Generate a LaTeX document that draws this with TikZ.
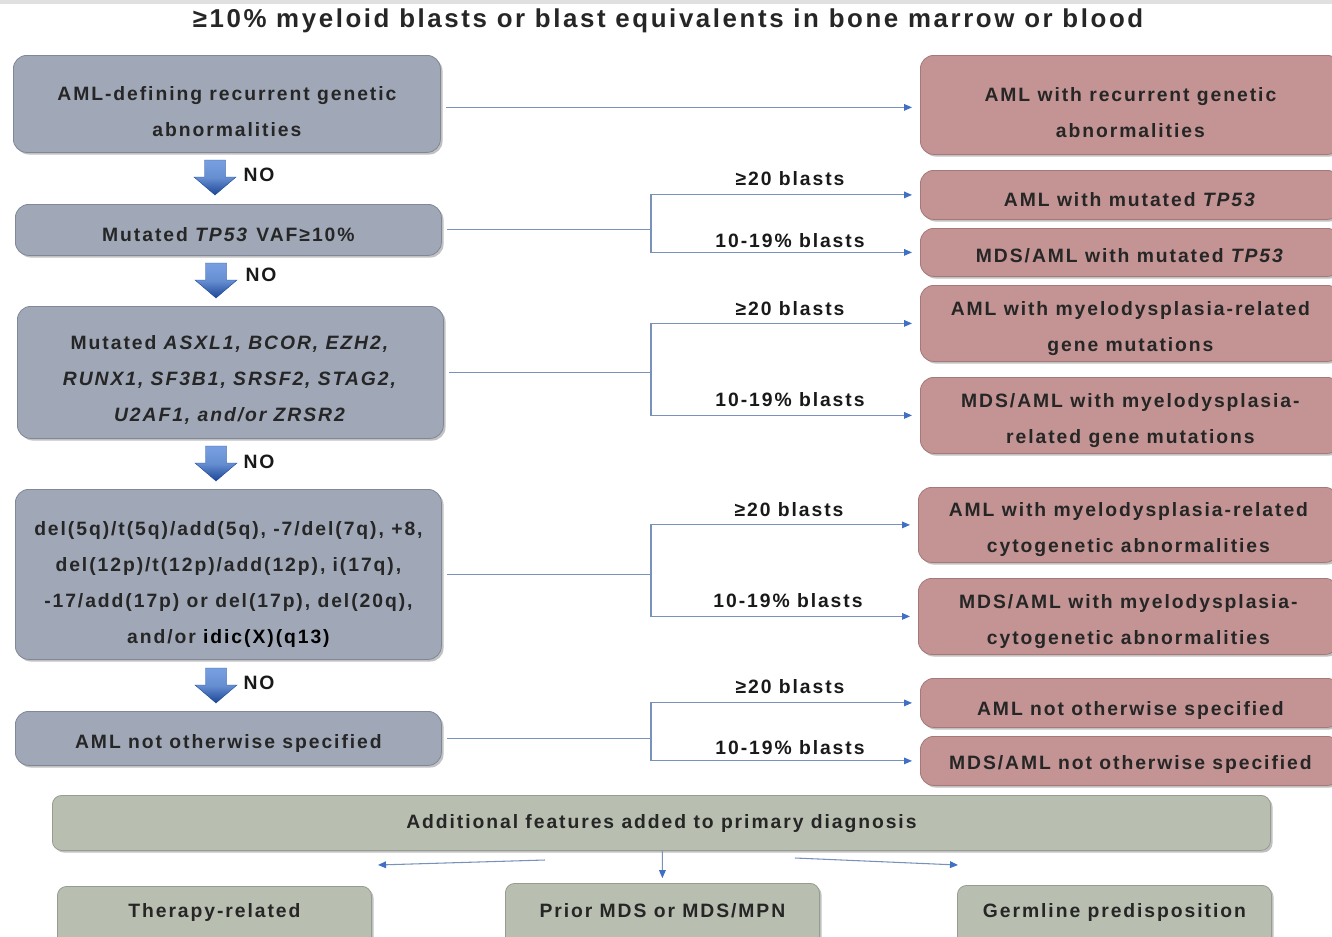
\documentclass[tikz,border=0pt]{standalone}
\usepackage{fontspec}
\setmainfont{Liberation Sans}[LetterSpace=10]
\usetikzlibrary{shadows,arrows.meta,calc}
\definecolor{bgray}{RGB}{160,168,184}
\definecolor{bgrayD}{RGB}{128,136,152}
\definecolor{rose}{RGB}{196,148,148}
\definecolor{roseD}{RGB}{166,120,120}
\definecolor{sage}{RGB}{184,191,177}
\definecolor{sageD}{RGB}{150,156,144}
\definecolor{txt}{RGB}{38,38,38}
\definecolor{lineC}{RGB}{120,146,186}
\definecolor{tipC}{RGB}{64,112,196}
\definecolor{arrL}{RGB}{120,160,225}
\definecolor{arrD}{RGB}{28,70,150}
\tikzset{
  sz/.style 2 args={minimum width=#1*0.75pt, minimum height=#2*0.75pt},
  tsh/.style 2 args={execute at begin node={%
      \pgfmathsetmacro\tsho{#1*0.75+5.2}%
      \pgfmathsetmacro\tshd{max(3,10.6-2*\tsho)}%
      \pgfmathsetmacro\tsht{2*\tshd+2*\tsho+(#2-1)*27}%
      \rule[-\tshd pt]{0pt}{\tsht pt}}},
  basebox/.style={anchor=north west, rounded corners=10pt, inner sep=0pt, align=center,
    text=txt, font=\bfseries\fontsize{14.5}{27}\selectfont,
    drop shadow={shadow xshift=1.6pt, shadow yshift=-1.6pt, opacity=0.35, fill=black!70}},
  lbox/.style={basebox, draw=bgrayD, line width=0.6pt, fill=bgray},
  rbox/.style={basebox, draw=roseD, line width=0.6pt, fill=rose},
  gbox/.style={basebox, draw=sageD, line width=0.6pt, fill=sage, rounded corners=7pt},
  lab/.style={font=\bfseries\fontsize{14.5}{16}\selectfont, text=black!90, inner sep=0pt},
  conn/.style={draw=lineC, line width=0.8pt},
  arr/.style={conn, -{Triangle[length=6pt,width=5pt,color=tipC]}},
  noarr/.pic={\shade[top color=arrL, bottom color=arrD, middle color=arrL!80!arrD, draw=arrD, line width=0.3pt]
      (-10.5,0) -- (10.5,0) -- (10.5,17) -- (21,17) -- (0,35) -- (-21,17) -- (-10.5,17) -- cycle;}
}
\begin{document}
\begin{tikzpicture}[x=0.75pt,y=-0.75pt]
\useasboundingbox (0,0) rectangle (1332,936);
\fill[black!12] (0,0) rectangle (1332,4);
\node[font=\bfseries\fontsize{19.4}{22}\selectfont, text=txt, inner sep=0pt] (title) at (668,21) {≥10\% myeloid blasts or blast equivalents in bone marrow or blood};

% left column
\node[lbox, sz={427}{97}, tsh={7.5}{2}] (b1) at (13,55) {AML-defining recurrent genetic\\abnormalities};
\node[lbox, sz={426}{51}, tsh={4.5}{1}] (b2) at (15,204) {Mutated \textit{TP53} VAF≥10\%};
\node[lbox, sz={426}{132}, tsh={6}{3}] (b3) at (17,306) {Mutated \textit{ASXL1, BCOR, EZH2,}\\\textit{RUNX1, SF3B1, SRSF2, STAG2,}\\\textit{U2AF1, and/or ZRSR2}};
\node[lbox, sz={426}{170}, tsh={8.5}{4}] (b4) at (15,489) {del(5q)/t(5q)/add(5q), -7/del(7q), +8,\\del(12p)/t(12p)/add(12p), i(17q),\\-17/add(17p) or del(17p), del(20q),\\and/or \textcolor{black}{idic(X)(q13)}};
\node[lbox, sz={426}{54}, tsh={3}{1}] (b5) at (15,711) {AML not otherwise specified};

% NO arrows
\pic at (215,160) {noarr};
\node[lab] (no1) at (259,175) {NO};
\pic at (216,263) {noarr};
\node[lab] (no2) at (261,275) {NO};
\pic at (216,446) {noarr};
\node[lab] (no3) at (259,462) {NO};
\pic at (216,668) {noarr};
\node[lab] (no4) at (259,683) {NO};

% right column
\node[rbox, sz={420}{99}, tsh={8}{2}] (r1) at (920,55) {AML with recurrent genetic\\abnormalities};
\node[rbox, sz={420}{49}, tsh={4.5}{1}] (r2) at (920,170) {AML with mutated \textit{TP53}};
\node[rbox, sz={420}{48}, tsh={3}{1}] (r3) at (920,228) {MDS/AML with mutated \textit{TP53}};
\node[rbox, sz={420}{76}, tsh={3}{2}] (r4) at (920,285) {AML with myelodysplasia-related\\gene mutations};
\node[rbox, sz={420}{76}, tsh={3}{2}] (r5) at (920,377) {MDS/AML with myelodysplasia-\\related gene mutations};
\node[rbox, sz={420}{75}, tsh={2.5}{2}] (r6) at (918,487) {AML with myelodysplasia-related\\cytogenetic abnormalities};
\node[rbox, sz={420}{76}, tsh={3}{2}] (r7) at (918,578) {MDS/AML with myelodysplasia-\\cytogenetic abnormalities};
\node[rbox, sz={420}{49}, tsh={5.5}{1}] (r8) at (920,678) {AML not otherwise specified};
\node[rbox, sz={420}{49}, tsh={1.5}{1}] (r9) at (920,736) {MDS/AML not otherwise specified};

% connectors
\coordinate (j) at (651,0);
\draw[arr, shorten <=4pt, shorten >=6pt] ([yshift=-2.6pt]b1.east) -- ([yshift=-2.6pt]b1.east -| r1.west);
\foreach \b/\u/\d in {b2/r2/r3, b3/r4/r5, b4/r6/r7, b5/r8/r9}{
  \draw[conn, shorten <=4pt] (\b.east) -- (\b.east -| j);
  \draw[arr, shorten >=6pt] (\b.east -| j) |- (\u.west);
  \draw[arr, shorten >=6pt] (\b.east -| j) |- (\d.west);
}
\node[lab] (l2a) at (790,179) {≥20 blasts};
\node[lab] (l2b) at (790,241) {10-19\% blasts};
\node[lab] (l3a) at (790,309) {≥20 blasts};
\node[lab] (l3b) at (790,400) {10-19\% blasts};
\node[lab] (l4a) at (789,510) {≥20 blasts};
\node[lab] (l4b) at (788,601) {10-19\% blasts};
\node[lab] (l5a) at (790,687) {≥20 blasts};
\node[lab] (l5b) at (790,748) {10-19\% blasts};

% bottom
\node[gbox, sz={1218}{55}, tsh={-1.5}{1}] (g) at (52,795) {Additional features added to primary diagnosis};
\node[gbox, sz={314}{62}, tsh={-7}{1}] (t1) at (57,886) {Therapy-related};
\node[gbox, sz={314}{62}, tsh={-4}{1}] (t2) at (505,883) {Prior MDS or MDS/MPN};
\node[gbox, sz={314}{62}, tsh={-6}{1}] (t3) at (957,885) {Germline predisposition};
\coordinate (gl) at (545,860);
\coordinate (tl) at (378,865);
\coordinate (gr) at (795,858);
\coordinate (tr) at (958,865);
\draw[arr] (gl) -- (tl);
\draw[arr] (g.south -| t2.north) coordinate (gm) -- ($(gm)!0.85!(t2.north)$) coordinate (tm);
\draw[arr] (gr) -- (tr);
\end{tikzpicture}
\end{document}
